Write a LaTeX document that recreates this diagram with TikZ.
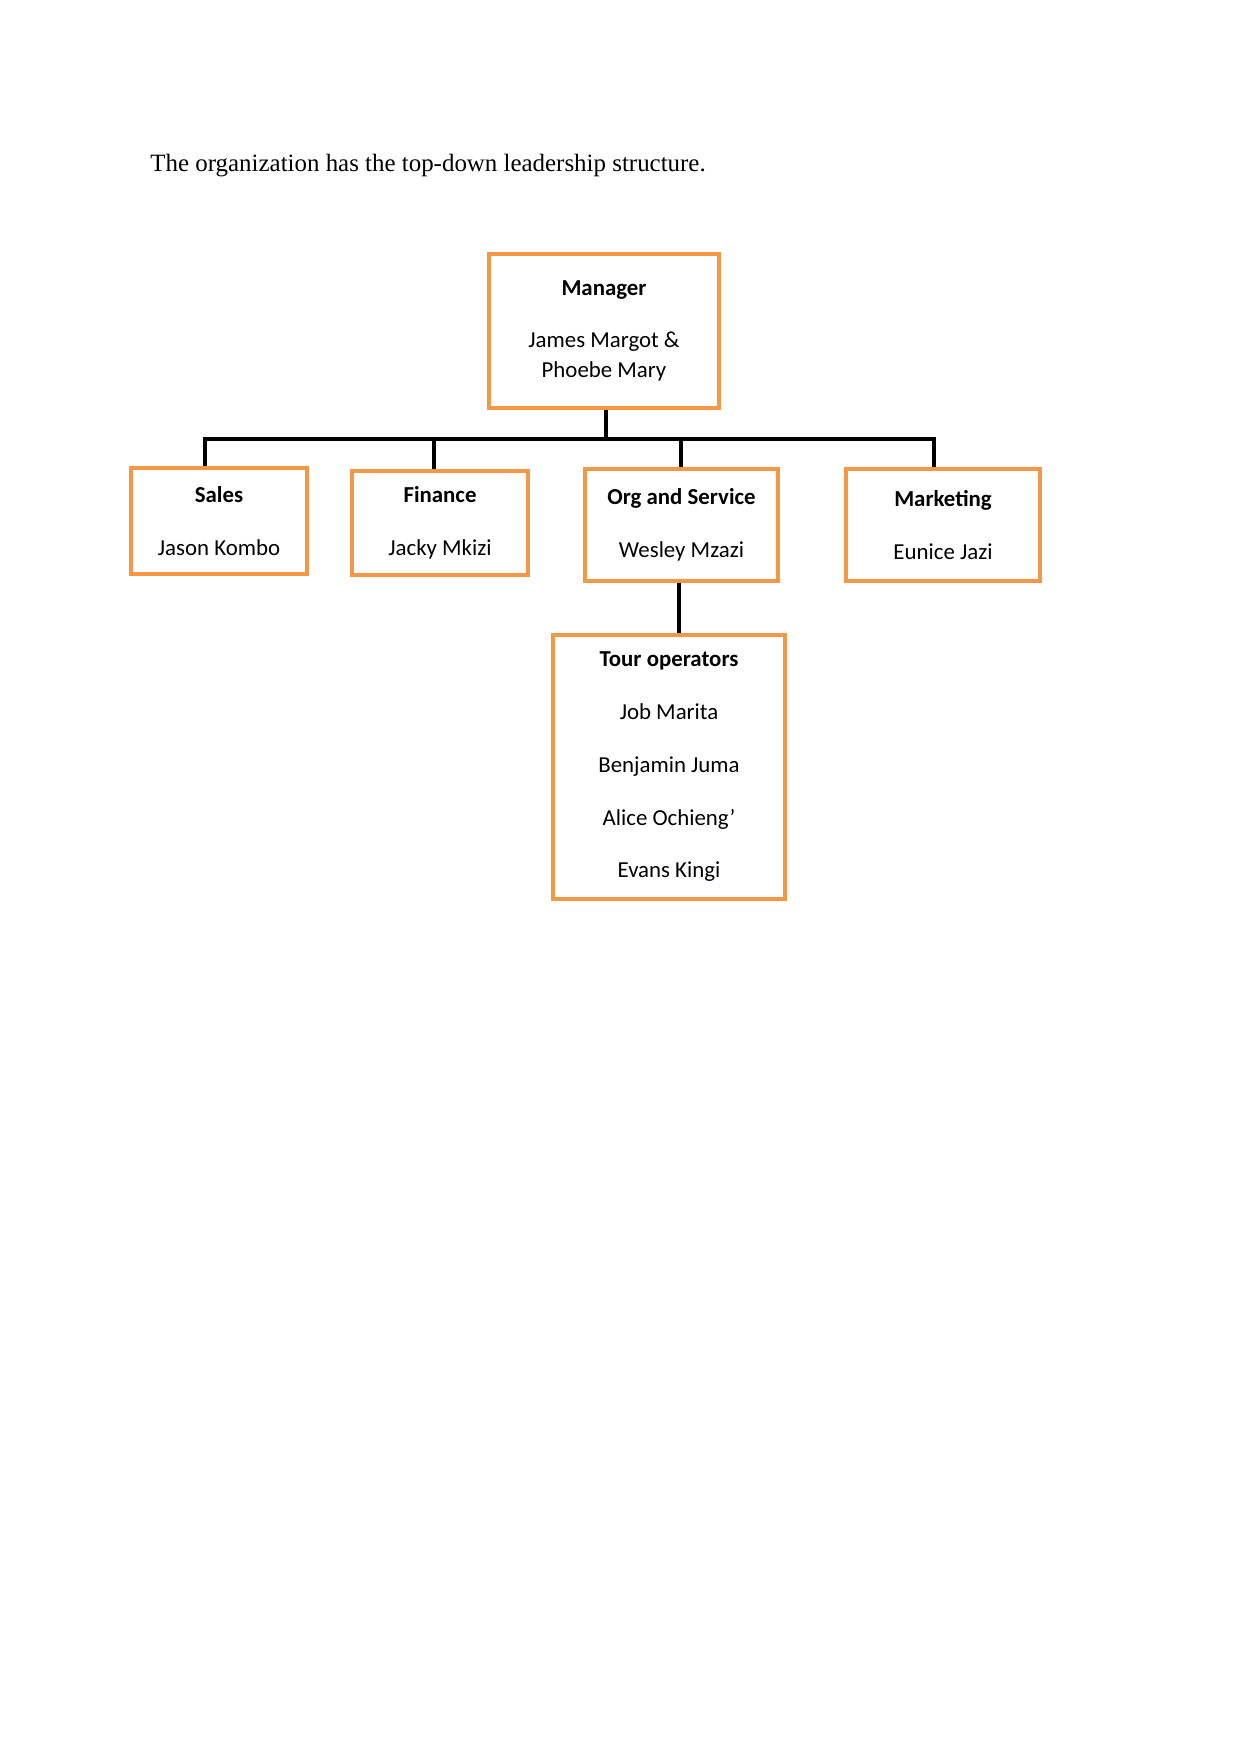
\documentclass[tikz,border=0pt]{standalone}
\usepackage{fontspec}
\setmainfont{Liberation Serif}
\newfontfamily\boxfont{Carlito}
\usepackage{xcolor}
\usepackage{tikz}
\usetikzlibrary{positioning}
\definecolor{boxorange}{RGB}{244,152,72}
\newcommand\pxu{0.16922mm}

\begin{document}
\begin{tikzpicture}[x=0.16922mm, y=-0.16922mm,
    unit/.style={draw=boxorange, line width=0.6mm, inner sep=0pt, align=center,
      font=\boxfont\fontsize{11}{25.4}\selectfont},
    wire/.style={line width=0.76mm, line join=miter}]
  \useasboundingbox (0,0) rectangle (1241,1754);
  % Ueberschrift
  \node[anchor=base west, inner sep=0pt, font=\fontsize{12}{14}\selectfont] (head) at (150,172)
    {The organization has the top-down leadership structure.};
  % Leitung
  \node[unit, minimum width=230*\pxu, minimum height=154*\pxu] (mgr) at (604,331)
    {\textbf{Manager}\\ James Margot \&\\[-11pt] Phoebe Mary};
  % Abteilungen
  \node[unit, minimum width=176*\pxu, minimum height=106*\pxu] (sales) at (219,521)
    {\textbf{Sales}\\ Jason Kombo};
  \node[unit, minimum width=176*\pxu, minimum height=104*\pxu] (fin) at (440,523)
    {\textbf{Finance}\\ Jacky Mkizi};
  \node[unit, minimum width=193*\pxu, minimum height=112*\pxu] (org) at (681.5,525)
    {\textbf{Org and Service}\\ Wesley Mzazi};
  \node[unit, minimum width=194*\pxu, minimum height=112*\pxu] (mkt) at (943,525)
    {\textbf{Marketing}\\ Eunice Jazi};
  \node[unit, minimum width=232*\pxu, minimum height=264*\pxu] (tour) at (669,767)
    {\textbf{Tour operators}\\ Job Marita\\ Benjamin Juma\\ Alice Ochieng’\\ Evans Kingi};
  % Verbindungen
  \coordinate (bS) at (205,439);
  \coordinate (bM) at (606,439);
  \coordinate (bF) at (434,439);
  \coordinate (bO) at (681,439);
  \coordinate (bK) at (934,439);
  \draw[wire] (bS |- sales.north) -- (bS) -- (bK) -- (bK |- mkt.north);
  \draw[wire] (bM |- mgr.south) -- (bM);
  \draw[wire] (bF) -- (bF |- fin.north);
  \draw[wire] (bO) -- (bO |- org.north);
  \draw[wire] (org.south -| 679,0) -- (tour.north -| 679,0);
\end{tikzpicture}
\end{document}
